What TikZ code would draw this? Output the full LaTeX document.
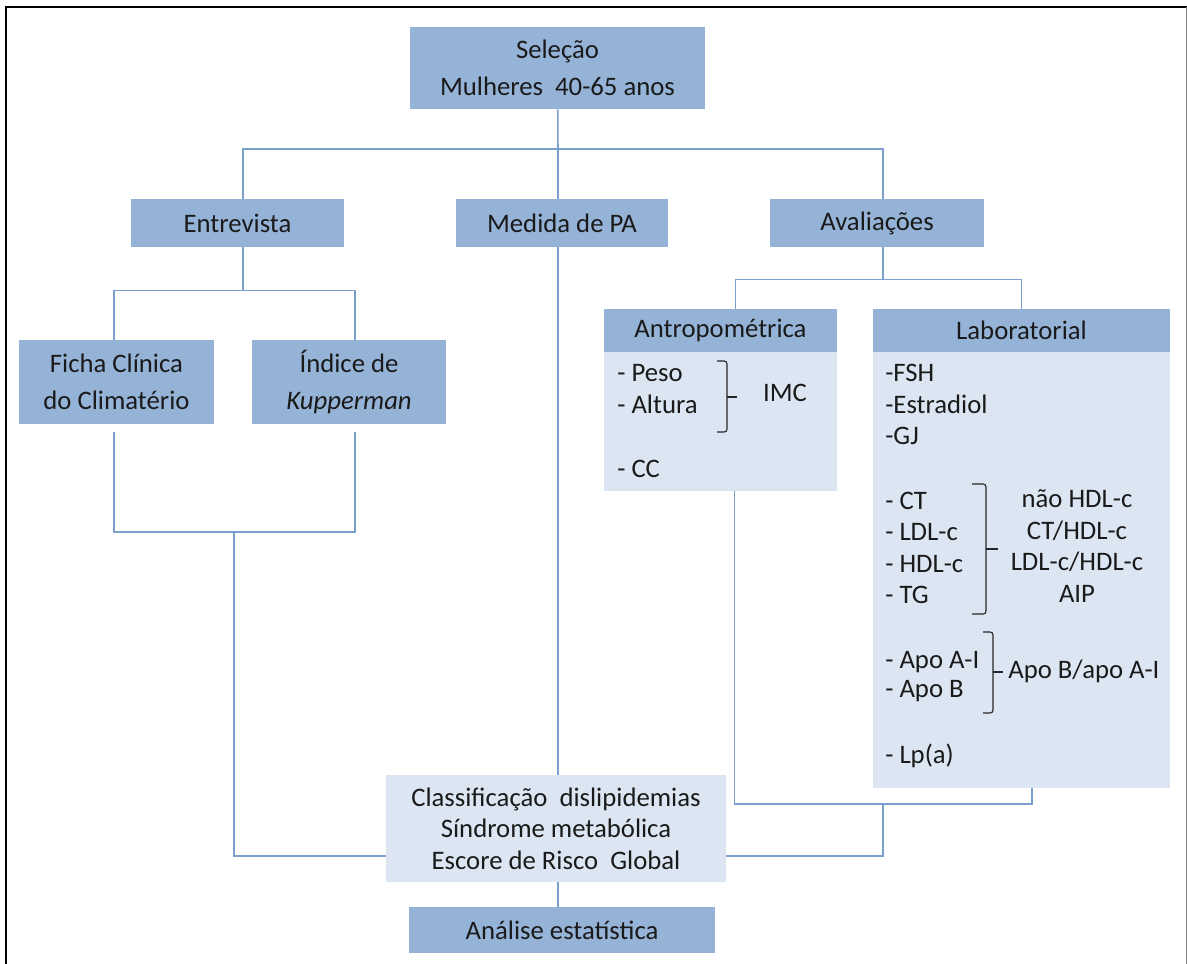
\documentclass[tikz,border=0pt]{standalone}
\usepackage{fontspec}
\setmainfont{Carlito}
\usetikzlibrary{positioning}
\definecolor{boxdark}{HTML}{95B3D7}
\definecolor{boxlight}{HTML}{DCE6F2}
\definecolor{linkblue}{HTML}{7BA0CD}
\definecolor{txt}{HTML}{1A1A1A}

\tikzset{
  head/.style={rectangle,fill=boxdark,inner sep=0pt,align=center,text=txt},
  body/.style={rectangle,fill=boxlight,inner sep=0pt},
  item/.style={anchor=west,inner sep=0pt,text=txt,text height=13pt,text depth=4pt},
  link/.style={draw=linkblue,line width=1.1pt},
  brace/.style={draw=black!85,line width=0.8pt,rounded corners=2pt}
}

\begin{document}
\begin{tikzpicture}
  [x=0.025cm,y=-0.025cm,every node/.style={font=\fontsize{19}{22.5}\selectfont}]
  \useasboundingbox (0,0) rectangle (1187,964);
  \draw[line width=1.6pt] (6,964) -- (6,7) -- (1187,7);
  \draw[gray,line width=0.6pt] (1186,7) -- (1186,964);

  \node[head,minimum width=7.375cm,minimum height=2.05cm] (sel) at (557.5,68) {Seleção\\[4pt]Mulheres\ \ 40-65 anos};
  \node[head,minimum width=5.325cm,minimum height=1.2cm] (entr) at (237.5,223) {Entrevista};
  \node[head,minimum width=5.3cm,minimum height=1.2cm] (pa) at (562,223) {Medida de PA};
  \node[head,minimum width=5.35cm,minimum height=1.2cm] (aval) at (877,223) {Avaliações};
  \node[head,minimum width=4.875cm,minimum height=2.1cm] (ficha) at (116.5,382) {Ficha Clínica\\[4pt]do Climatério};
  \node[head,minimum width=4.85cm,minimum height=2.1cm] (kupp) at (349,382) {Índice de\\[4pt]\textit{Kupperman}};

  \node[body,minimum width=5.825cm,minimum height=3.475cm] (antrobody) at (720.5,421.5) {};
  \node[head,minimum width=5.825cm,minimum height=1.075cm] (antro) at (720.5,330.5) {Antropométrica};
  \node[body,minimum width=7.425cm,minimum height=10.9cm] (labbody) at (1021.5,570) {};
  \node[head,minimum width=7.425cm,minimum height=1.075cm] (lab) at (1021.5,330.5) {Laboratorial};

  \node[body,align=center,text=txt,minimum width=8.5cm,minimum height=2.675cm] (classif) at (556,828.5) {Classificação\ \ dislipidemias\\Síndrome metabólica\\Escore de Risco\ \ Global};
  \node[head,minimum width=7.65cm,minimum height=1.15cm] (analise) at (562,930) {Análise estatística};

  % antropometrica
  \foreach \t/\y [count=\i] in {- Peso/375,- Altura/407,- CC/471}
    \node[item] (antro-\i) at (617,\y) {\t};
  \node[text=txt,inner sep=0pt] (imc) at (785,393) {IMC};
  \draw[brace] (717,361) -- (727,361) -- (727,432) -- (717,432);
  \draw[brace] (727,397) -- (737,397);

  % laboratorial
  \foreach \t/\y [count=\i] in {-FSH/375,-Estradiol/407,-GJ/438,- CT/503,- LDL-c/534,- HDL-c/566,- TG/597,- Apo A-I/662,- Apo B/691,- Lp(a)/757}
    \node[item] (lab-\i) at (885,\y) {\t};
  \node[text=txt,align=center,inner sep=0pt] (ratios) at (1077,546) {não HDL-c\\CT/HDL-c\\LDL-c/HDL-c\\AIP};
  \node[item] (apo) at (1008,672) {Apo B/apo A-I};
  \draw[brace] (972,484) -- (986,484) -- (986,614) -- (972,614);
  \draw[brace] (986,549) -- (998,549);
  \draw[brace] (983,632) -- (993,632) -- (993,713) -- (983,713);
  \draw[brace] (993,672) -- (1003,672);

  % ligacoes
  \coordinate (top) at (558,149);
  \draw[link] (sel) -- (top);
  \draw[link] ([xshift=0.14cm]entr.north) |- (top) -| ([xshift=0.15cm]aval.north);
  \draw[link] (top) -- (top |- pa.north);
  \draw[link] (pa.south -| top) -- (classif.north -| top);
  \draw[link] ([xshift=0.14cm]entr.south) -- ++(0,43) coordinate (entrj);
  \draw[link] ([xshift=-0.06cm]ficha.north) |- (entrj) -| ([xshift=0.15cm]kupp.north);
  \coordinate (entrb) at (234,532);
  \draw[link,shorten <=0.2cm] ([xshift=-0.06cm]ficha.south) |- (entrb);
  \draw[link,shorten <=0.2cm] ([xshift=0.15cm]kupp.south) |- (entrb);
  \draw[link] (entrb) |- ([yshift=-0.6875cm]classif.west);
  \draw[link] ([xshift=0.15cm]aval.south) -- ++(0,32) coordinate (avalj);
  \draw[link] ([xshift=0.375cm]antro.north) |- (avalj) -| (lab.north);
  \coordinate (labj) at (883,804);
  \draw[link] ([xshift=0.35cm]antrobody.south) |- (labj) -| ([xshift=0.26cm]labbody.south);
  \draw[link] (labj) |- ([yshift=-0.6875cm]classif.east);
  \draw[link] (classif.south -| top) -- (analise.north -| top);
\end{tikzpicture}
\end{document}
